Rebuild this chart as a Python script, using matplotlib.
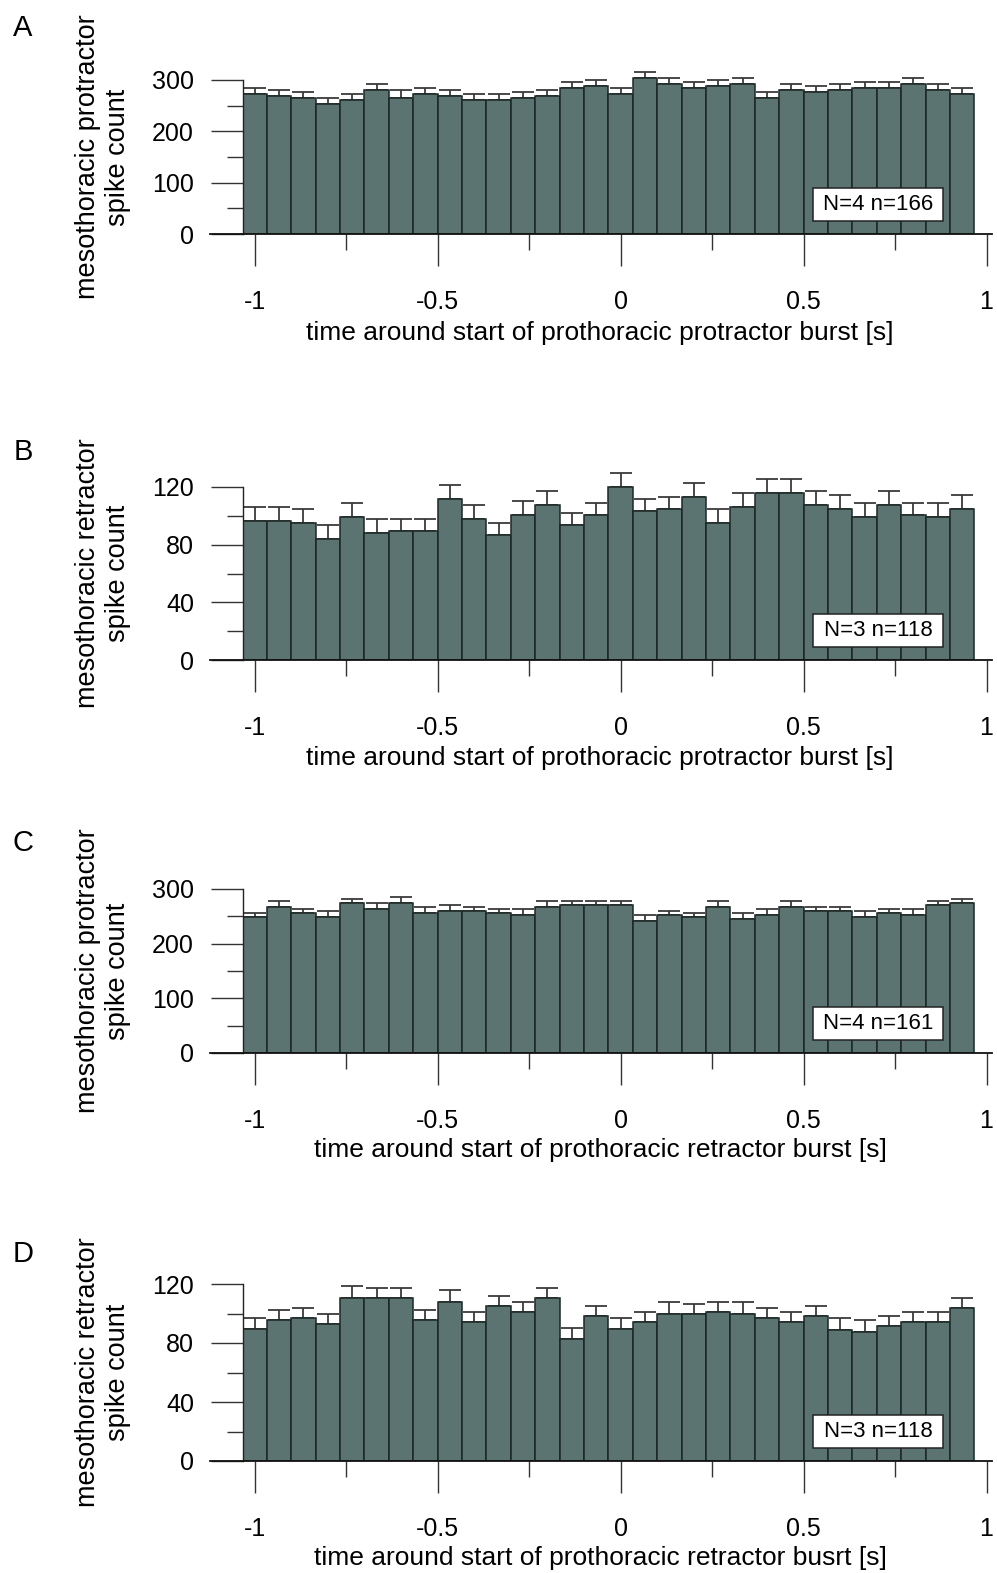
import numpy as np
import matplotlib
matplotlib.use("Agg")
import matplotlib.pyplot as plt
from matplotlib.patches import Rectangle

plt.rcParams['font.family'] = ['Liberation Sans', 'DejaVu Sans']

# --- DATA ---
n_bins = 30
bin_width = 1 / 15
bin_centers = -1 + bin_width * np.arange(n_bins)

pro_pro_mean = [273.5, 269.6, 265.7, 254.0, 261.0, 280.5, 265.0, 273.5, 269.6, 261.0,
                261.0, 265.0, 269.6, 284.5, 289.0, 273.5, 304.6, 293.0, 285.0, 289.0,
                293.0, 265.7, 281.3, 277.4, 281.3, 285.0, 285.0, 293.0, 281.3, 273.5]
pro_pro_sem = [11.5, 10.9, 11.0, 11.0, 11.8, 11.5, 15.5, 11.0, 10.9, 11.8,
               11.8, 11.7, 10.9, 11.5, 11.0, 11.5, 11.7, 11.6, 11.8, 11.7,
               11.6, 11.7, 11.7, 11.6, 11.7, 11.8, 11.8, 11.6, 11.7, 11.5]

ret_pro_mean = [96.4, 96.4, 95.0, 83.9, 99.2, 88.0, 89.4, 89.4, 111.7, 97.8,
                86.7, 100.6, 107.5, 93.6, 100.6, 120.0, 103.3, 104.7, 113.1, 95.0,
                106.1, 115.9, 115.9, 107.5, 104.7, 99.2, 107.5, 100.6, 99.2, 104.7]
ret_pro_sem = [9.7, 9.7, 9.7, 9.7, 9.7, 9.8, 8.4, 8.4, 9.7, 9.7,
               8.3, 9.7, 9.7, 8.3, 8.3, 9.7, 8.4, 8.4, 9.7, 9.7,
               9.8, 9.7, 9.7, 9.7, 9.8, 9.7, 9.7, 8.3, 9.7, 9.8]

pro_ret_mean = [248.3, 266.5, 255.6, 248.3, 273.8, 262.9, 273.8, 255.6, 259.2, 259.2,
                255.6, 251.9, 266.5, 270.2, 270.2, 270.2, 241.0, 251.9, 248.3, 266.5,
                244.6, 251.9, 266.5, 259.2, 259.2, 248.3, 255.6, 251.9, 270.2, 273.8]
pro_ret_sem = [7.9, 11.0, 7.3, 10.9, 7.9, 10.9, 11.6, 10.9, 11.6, 7.3,
               7.3, 11.0, 11.0, 7.3, 7.3, 7.3, 10.9, 7.3, 7.3, 11.0,
               11.0, 11.0, 11.0, 7.3, 7.3, 10.9, 7.3, 11.0, 7.3, 7.9]

ret_ret_mean = [89.7, 95.4, 96.7, 92.7, 110.3, 110.3, 110.3, 95.4, 107.6, 94.0,
                104.9, 100.8, 110.3, 82.9, 98.1, 89.7, 94.0, 99.4, 99.4, 100.8,
                99.4, 96.7, 94.0, 98.1, 88.6, 87.2, 91.3, 94.0, 94.0, 103.5]
ret_ret_sem = [7.0, 6.8, 6.8, 6.7, 8.4, 6.8, 6.8, 6.8, 8.1, 6.8,
               6.7, 6.8, 6.8, 7.0, 6.8, 7.0, 6.8, 8.2, 6.8, 6.8,
               8.2, 6.8, 6.8, 6.8, 8.1, 8.2, 6.8, 6.8, 6.8, 6.8]

panel_letters = ['A', 'B', 'C', 'D']
ylabels = ['mesothoracic protractor\nspike count',
           'mesothoracic retractor\nspike count',
           'mesothoracic protractor\nspike count',
           'mesothoracic retractor\nspike count']
xlabels = ['time around start of prothoracic protractor burst [s]',
           'time around start of prothoracic protractor burst [s]',
           'time around start of prothoracic retractor burst [s]',
           'time around start of prothoracic retractor busrt [s]']
box_texts = ['N=4 n=166', 'N=3 n=118', 'N=4 n=161', 'N=3 n=118']
means = [pro_pro_mean, ret_pro_mean, pro_ret_mean, ret_ret_mean]
sems = [pro_pro_sem, ret_pro_sem, pro_ret_sem, ret_ret_sem]
ymaj = [[0, 100, 200, 300], [0, 40, 80, 120], [0, 100, 200, 300], [0, 40, 80, 120]]
ymin = [[50, 150, 250], [20, 60, 100], [50, 150, 250], [20, 60, 100]]
xmaj = [-1, -0.5, 0, 0.5, 1]
xmaj_labels = ['-1', '-0.5', '0', '0.5', '1']
xmin = [-0.75, -0.25, 0.25, 0.75]

# --- LAYOUT (pixels) ---
W, H = 997, 1573
baselines = [234, 660, 1053, 1461]     # y of zero line
top_tick_px = [154, 173, 164, 177]     # height of the top y tick above baseline
letter_y = [28, 452, 843, 1254]
xlabel_y = [333, 758, 1150, 1558]
ax_left, ax_width = 242.5, 744
bar_color = '#5b7472'

fig = plt.figure(figsize=(W / 100, H / 100), dpi=100)

for i in range(4):
    base = baselines[i]
    ytop = ymaj[i][-1]
    ylim_top = ytop * 1.12
    h = top_tick_px[i] * 1.12
    ax = fig.add_axes([ax_left / W, (H - base) / H, ax_width / W, h / H])

    ax.bar(bin_centers, means[i], width=bin_width, color=bar_color,
           edgecolor='#1c2624', linewidth=1.1, zorder=2)
    ax.errorbar(bin_centers, means[i], yerr=[np.zeros(n_bins), sems[i]],
                fmt='none', ecolor='#3a3a3a', elinewidth=1.3, capsize=8,
                capthick=1.3, zorder=1)

    ax.set_xlim(-1 - bin_width / 2, 1.0)
    ax.set_ylim(0, ylim_top)
    for s in ['top', 'right', 'bottom']:
        ax.spines[s].set_visible(False)
    ax.spines['left'].set_bounds(0, ytop)
    ax.spines['left'].set_color('#222222')
    ax.spines['left'].set_linewidth(1)
    # zero line running under the y ticks
    ax.plot([-1.121, 1.015], [0, 0], color='#111111', lw=1.3, clip_on=False, zorder=3)

    ax.set_xticks(xmaj)
    ax.set_xticklabels(xmaj_labels)
    ax.set_xticks(xmin, minor=True)
    ax.set_yticks(ymaj[i])
    ax.set_yticks(ymin[i], minor=True)
    ax.tick_params(axis='both', which='major', direction='out', length=23,
                   width=1, color='#333333', labelsize=18)
    ax.tick_params(axis='both', which='minor', direction='out', length=11.5,
                   width=1, color='#333333')
    ax.tick_params(axis='x', which='major', pad=17)
    ax.tick_params(axis='y', which='major', pad=12)

    yc = base - top_tick_px[i] / 2
    fig.text(103 / W, 1 - yc / H, ylabels[i], rotation=90, ha='center',
             va='center', multialignment='center', fontsize=19.5, linespacing=1.2)
    fig.text(600 / W, 1 - xlabel_y[i] / H, xlabels[i], ha='center',
             va='center', fontsize=19)
    fig.text(23 / W, 1 - letter_y[i] / H, panel_letters[i], ha='center',
             va='center', fontsize=21)

    # N / n box
    bx0, bx1 = 813, 943
    by0, by1 = base - 46, base - 13
    fig.patches.append(Rectangle((bx0 / W, 1 - by1 / H), (bx1 - bx0) / W,
                                 (by1 - by0) / H, transform=fig.transFigure,
                                 facecolor='white', edgecolor='#222222', lw=1.1))
    fig.text((bx0 + bx1) / 2 / W, 1 - (by0 + by1) / 2 / H, box_texts[i],
             ha='center', va='center', fontsize=16, zorder=5)

fig.savefig('out.png', dpi=100)
